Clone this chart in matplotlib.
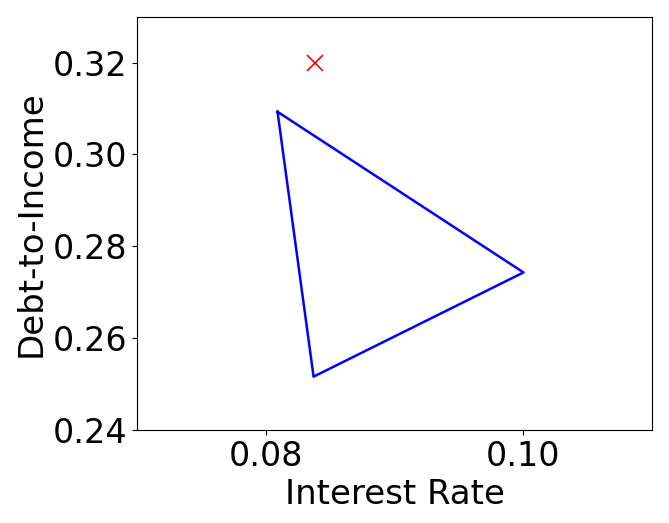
import matplotlib
matplotlib.use("Agg")
import matplotlib.pyplot as plt

# triangle (closed polygon) in interest rate / debt-to-income space
tri_x = [0.0809, 0.1000, 0.0837, 0.0809]
tri_y = [0.3093, 0.2743, 0.2516, 0.3093]

# marked point
pt_x = [0.0838]
pt_y = [0.3200]

plt.rcParams['font.size'] = 24

fig, ax = plt.subplots(figsize=(6.69, 5.23), dpi=100)
ax.plot(tri_x, tri_y, color='blue', linewidth=1.8)
ax.plot(pt_x, pt_y, 'x', color='red', markersize=12, markeredgewidth=1.2)

ax.set_xlim(0.07, 0.11)
ax.set_ylim(0.24, 0.33)
ax.set_xticks([0.08, 0.10])
ax.set_xticklabels(['0.08', '0.10'])
ax.set_yticks([0.24, 0.26, 0.28, 0.30, 0.32])
ax.set_yticklabels(['0.24', '0.26', '0.28', '0.30', '0.32'])
ax.set_xlabel("Interest Rate", fontsize=24.5)
ax.set_ylabel("Debt-to-Income", fontsize=24.5)

plt.subplots_adjust(left=0.205, right=0.975, top=0.968, bottom=0.178)
plt.savefig("out.png", dpi=100)
